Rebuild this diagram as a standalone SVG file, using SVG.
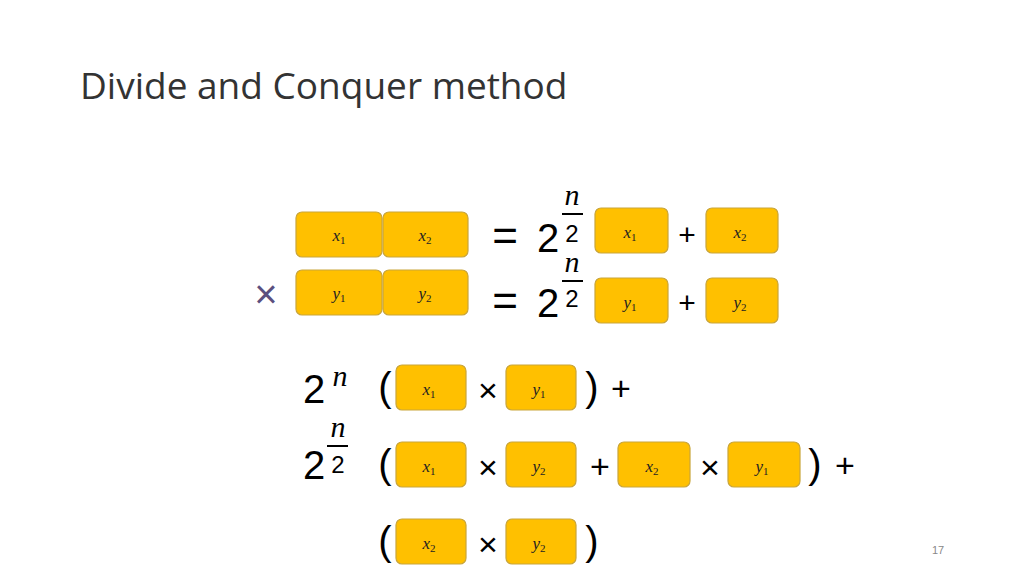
<svg xmlns="http://www.w3.org/2000/svg" width="1024" height="576" viewBox="0 0 1024 576">
<style>
.b{fill:#FFC000;stroke:#C9A53A;stroke-width:1.2}
.v{font-family:"Liberation Serif",serif;font-style:italic;font-size:17px;text-anchor:middle;fill:#222}
.s{font-size:11px;font-style:normal}
.m{font-family:"Liberation Sans",sans-serif;fill:#000;text-anchor:middle}
.n{font-family:"Liberation Serif",serif;font-style:italic;fill:#000;text-anchor:middle}
</style>
<rect width="1024" height="576" fill="#fff"/>
<text x="80" y="99" font-family="Open Sans,sans-serif" font-size="37" fill="#333">Divide and Conquer method</text>
<g id="top">
<rect class="b" x="296" y="212" width="86" height="45" rx="6"/><text class="v" x="339" y="241">x<tspan class="s" dy="3">1</tspan></text>
<rect class="b" x="383" y="212" width="85" height="45" rx="6"/><text class="v" x="425" y="241">x<tspan class="s" dy="3">2</tspan></text>
<rect class="b" x="296" y="270" width="86" height="45" rx="6"/><text class="v" x="339" y="299">y<tspan class="s" dy="3">1</tspan></text>
<rect class="b" x="383" y="270" width="85" height="45" rx="6"/><text class="v" x="425" y="299">y<tspan class="s" dy="3">2</tspan></text>
<text x="266" y="308" font-family="Liberation Sans,sans-serif" font-size="40" fill="#5B4F7E" text-anchor="middle">×</text>
<text class="m" x="505" y="251" font-size="44">=</text>
<text class="m" x="548" y="252" font-size="40">2</text>
<text class="n" x="572" y="205" font-size="30">n</text>
<line x1="562" y1="214" x2="583" y2="214" stroke="#000" stroke-width="2"/>
<text class="m" x="572" y="242" font-size="24">2</text>
<rect class="b" x="595" y="208" width="73" height="45" rx="6"/><text class="v" x="630" y="238">x<tspan class="s" dy="3">1</tspan></text>
<text class="m" x="687" y="245" font-size="30">+</text>
<rect class="b" x="706" y="208" width="72" height="45" rx="6"/><text class="v" x="740" y="238">x<tspan class="s" dy="3">2</tspan></text>
<text class="m" x="505" y="316" font-size="44">=</text>
<text class="m" x="548" y="317" font-size="40">2</text>
<text class="n" x="572" y="272" font-size="30">n</text>
<line x1="562" y1="281" x2="583" y2="281" stroke="#000" stroke-width="2"/>
<text class="m" x="572" y="307" font-size="24">2</text>
<rect class="b" x="595" y="278" width="73" height="45" rx="6"/><text class="v" x="630" y="308">y<tspan class="s" dy="3">1</tspan></text>
<text class="m" x="687" y="313" font-size="30">+</text>
<rect class="b" x="706" y="278" width="72" height="45" rx="6"/><text class="v" x="740" y="308">y<tspan class="s" dy="3">2</tspan></text>
</g>
<g id="bottom">
<text class="m" x="314" y="403" font-size="40">2</text>
<text class="n" x="340" y="386" font-size="30">n</text>
<text class="m" x="314" y="479" font-size="40">2</text>
<text class="n" x="338" y="437" font-size="30">n</text>
<line x1="327" y1="446" x2="348" y2="446" stroke="#000" stroke-width="2"/>
<text class="m" x="338" y="473" font-size="24">2</text>
<text class="m" x="385" y="401" font-size="40">(</text>
<rect class="b" x="396" y="365" width="70" height="45" rx="6"/><text class="v" x="429" y="395">x<tspan class="s" dy="3">1</tspan></text>
<text class="m" x="488" y="402" font-size="34">×</text>
<rect class="b" x="506" y="365" width="70" height="45" rx="6"/><text class="v" x="539" y="395">y<tspan class="s" dy="3">1</tspan></text>
<text class="m" x="592" y="401" font-size="40">)</text>
<text class="m" x="621" y="400" font-size="34">+</text>
<text class="m" x="385" y="478" font-size="40">(</text>
<rect class="b" x="396" y="442" width="70" height="45" rx="6"/><text class="v" x="429" y="472">x<tspan class="s" dy="3">1</tspan></text>
<text class="m" x="488" y="479" font-size="34">×</text>
<rect class="b" x="506" y="442" width="70" height="45" rx="6"/><text class="v" x="539" y="472">y<tspan class="s" dy="3">2</tspan></text>
<text class="m" x="600" y="478" font-size="34">+</text>
<rect class="b" x="618" y="442" width="72" height="45" rx="6"/><text class="v" x="652" y="472">x<tspan class="s" dy="3">2</tspan></text>
<text class="m" x="710" y="479" font-size="34">×</text>
<rect class="b" x="728" y="442" width="72" height="45" rx="6"/><text class="v" x="762" y="472">y<tspan class="s" dy="3">1</tspan></text>
<text class="m" x="815" y="478" font-size="40">)</text>
<text class="m" x="845" y="477" font-size="34">+</text>
<text class="m" x="385" y="555" font-size="40">(</text>
<rect class="b" x="396" y="519" width="70" height="45" rx="6"/><text class="v" x="429" y="549">x<tspan class="s" dy="3">2</tspan></text>
<text class="m" x="488" y="556" font-size="34">×</text>
<rect class="b" x="506" y="519" width="70" height="45" rx="6"/><text class="v" x="539" y="549">y<tspan class="s" dy="3">2</tspan></text>
<text class="m" x="592" y="555" font-size="40">)</text>
</g>
<text x="938" y="554" font-family="Liberation Sans,sans-serif" font-size="11" fill="#888" text-anchor="middle">17</text>
</svg>
